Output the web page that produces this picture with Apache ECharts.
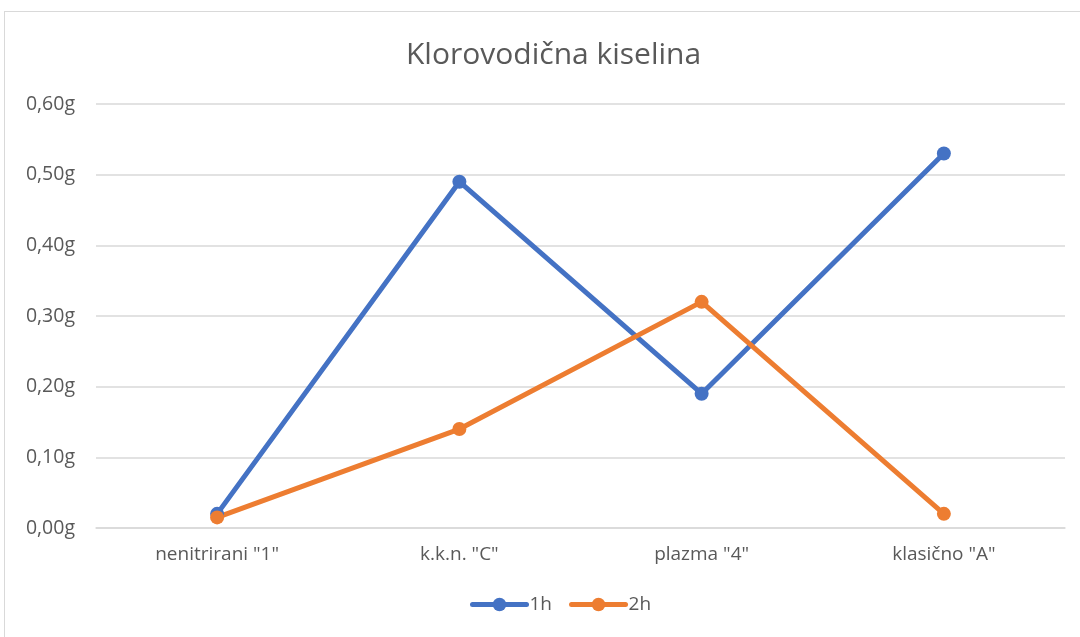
<!DOCTYPE html>
<html><head><meta charset="utf-8">
<script src="https://cdn.jsdelivr.net/npm/echarts@6/dist/echarts.min.js"></script>
<style>
html,body{margin:0;padding:0;background:#fff;}
#frame{position:absolute;left:4px;top:11px;width:1090px;height:640px;border:1px solid #d9d9d9;box-sizing:border-box;}
#c{position:absolute;left:0;top:0;width:1080px;height:637px;}
</style></head>
<body>
<div id="frame"></div>
<div id="c"></div>
<script>
const categories = ['nenitrirani "1"', 'k.k.n. "C"', 'plazma "4"', 'klasično "A"'];
const series1h = [0.02, 0.49, 0.19, 0.53];
const series2h = [0.015, 0.14, 0.32, 0.02];
const yTicks = { min: 0, max: 0.6, interval: 0.1 };

const chart = echarts.init(document.getElementById('c'), null, {renderer: 'canvas'});
const font = '"Open Sans", sans-serif';
chart.setOption({
  animation: false,
  backgroundColor: 'transparent',
  title: {
    text: 'Klorovodična kiselina', left: 401, top: 35,
    textStyle: {fontFamily: font, fontSize: 30, fontWeight: 'normal', color: '#595959'}
  },
  legend: {
    bottom: 18, left: 465, itemWidth: 54, itemHeight: 17, itemGap: 17,
    lineStyle: {width: 5, cap: 'round'},
    textStyle: {fontFamily: font, fontSize: 19, color: '#595959', padding: [0, 0, 0, -2]},
    data: ['1h', '2h']
  },
  grid: {left: 96, right: 15, top: 104, bottom: 109, containLabel: false},
  xAxis: {
    type: 'category', data: categories, boundaryGap: true,
    axisLine: {show: true, lineStyle: {color: '#d9d9d9', width: 1.5}},
    axisTick: {show: false},
    axisLabel: {fontFamily: font, fontSize: 19, color: '#595959', margin: 17}
  },
  yAxis: {
    type: 'value', min: yTicks.min, max: yTicks.max, interval: yTicks.interval,
    axisLine: {show: false}, axisTick: {show: false},
    splitLine: {lineStyle: {color: '#d9d9d9', width: 1.5}},
    axisLabel: {fontFamily: font, fontSize: 19.5, color: '#595959', margin: 21,
      formatter: v => v.toFixed(2).replace('.', ',') + 'g'}
  },
  series: [
    {name: '1h', type: 'line', data: series1h, symbol: 'circle', symbolSize: 14,
     itemStyle: {color: '#4472C4'}, lineStyle: {color: '#4472C4', width: 5}},
    {name: '2h', type: 'line', data: series2h, symbol: 'circle', symbolSize: 14,
     itemStyle: {color: '#ED7D31'}, lineStyle: {color: '#ED7D31', width: 5}}
  ]
});
</script>
</body></html>
